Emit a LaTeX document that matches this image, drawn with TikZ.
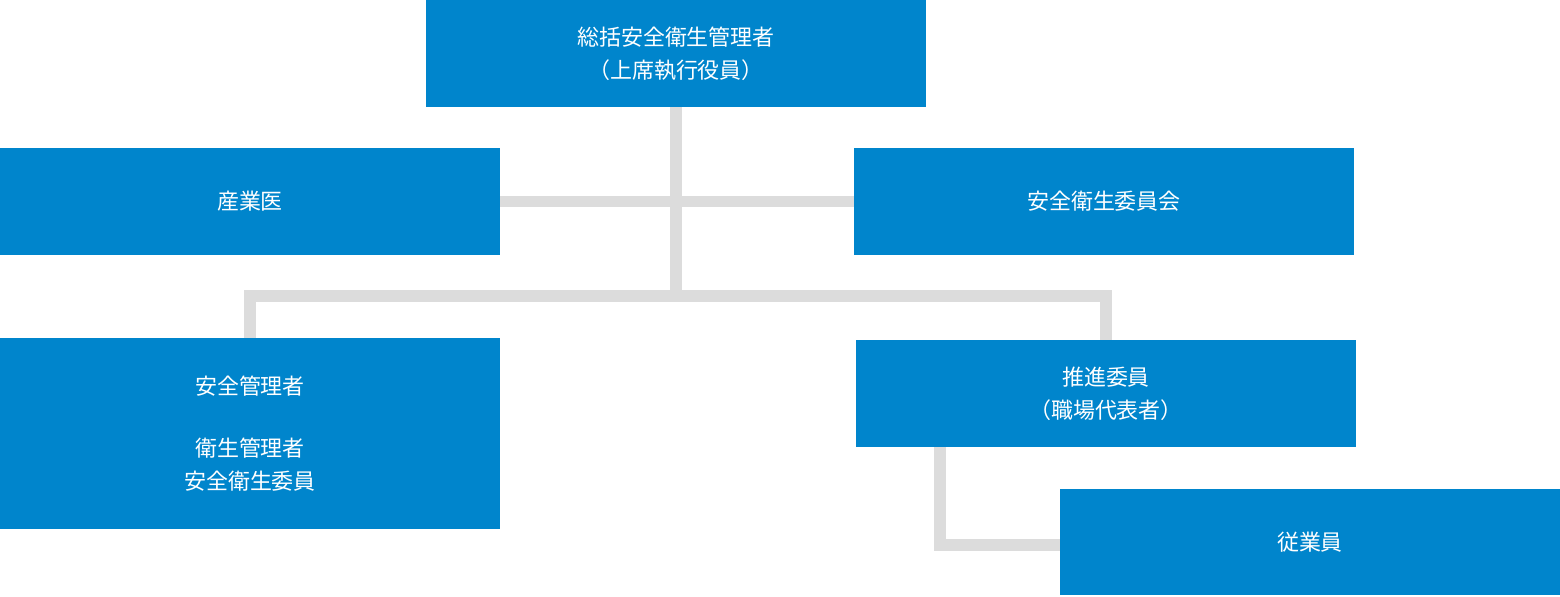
\documentclass[tikz,border=0pt]{standalone}
\usepackage{fontspec}
\newfontfamily\cjk{Noto Sans CJK JP}
\usetikzlibrary{positioning, backgrounds}
\definecolor{orgblue}{HTML}{0085CC}
\definecolor{orgline}{HTML}{DCDCDC}

\begin{document}
\begin{tikzpicture}[x=0.02cm, y=-0.02cm,
    unit/.style={rectangle, fill=orgblue, text=white, minimum width=10cm,
                 minimum height=2.14cm, font=\cjk\fontsize{12.5}{19}\selectfont,
                 align=center, inner sep=0pt},
    link/.style={draw=orgline, line width=6.8pt}
  ]
    \useasboundingbox (0,0) rectangle (1560,596);

    % Units
    \node[unit] (chief)  at (676,53.5)   {総括安全衛生管理者\\（上席執行役員）};
    \node[unit] (doctor) at (250,201.5)  {産業医};
    \node[unit] (board)  at (1104,201.5) {安全衛生委員会};
    \node[unit, minimum height=3.82cm] (safety) at (250,433.5)
      {安全管理者\\[1.3em]衛生管理者\\安全衛生委員};
    \node[unit] (promo)  at (1106,393.5) {推進委員\\（職場代表者）};
    \node[unit] (staff)  at (1310,542)   {従業員};

    % Links
    \coordinate (split) at (676,296);
    \coordinate (bend) at (940,545);
    \begin{scope}[on background layer]
      \draw[link] (chief.south) -- (split);
      \draw[link] (doctor.east) -- (board.west);
      \draw[link] (safety.north) |- (split) -| (promo.north);
      \draw[link] (promo.south -| bend) -- (bend) -- (staff.west |- bend);
    \end{scope}
  \end{tikzpicture}
\end{document}
